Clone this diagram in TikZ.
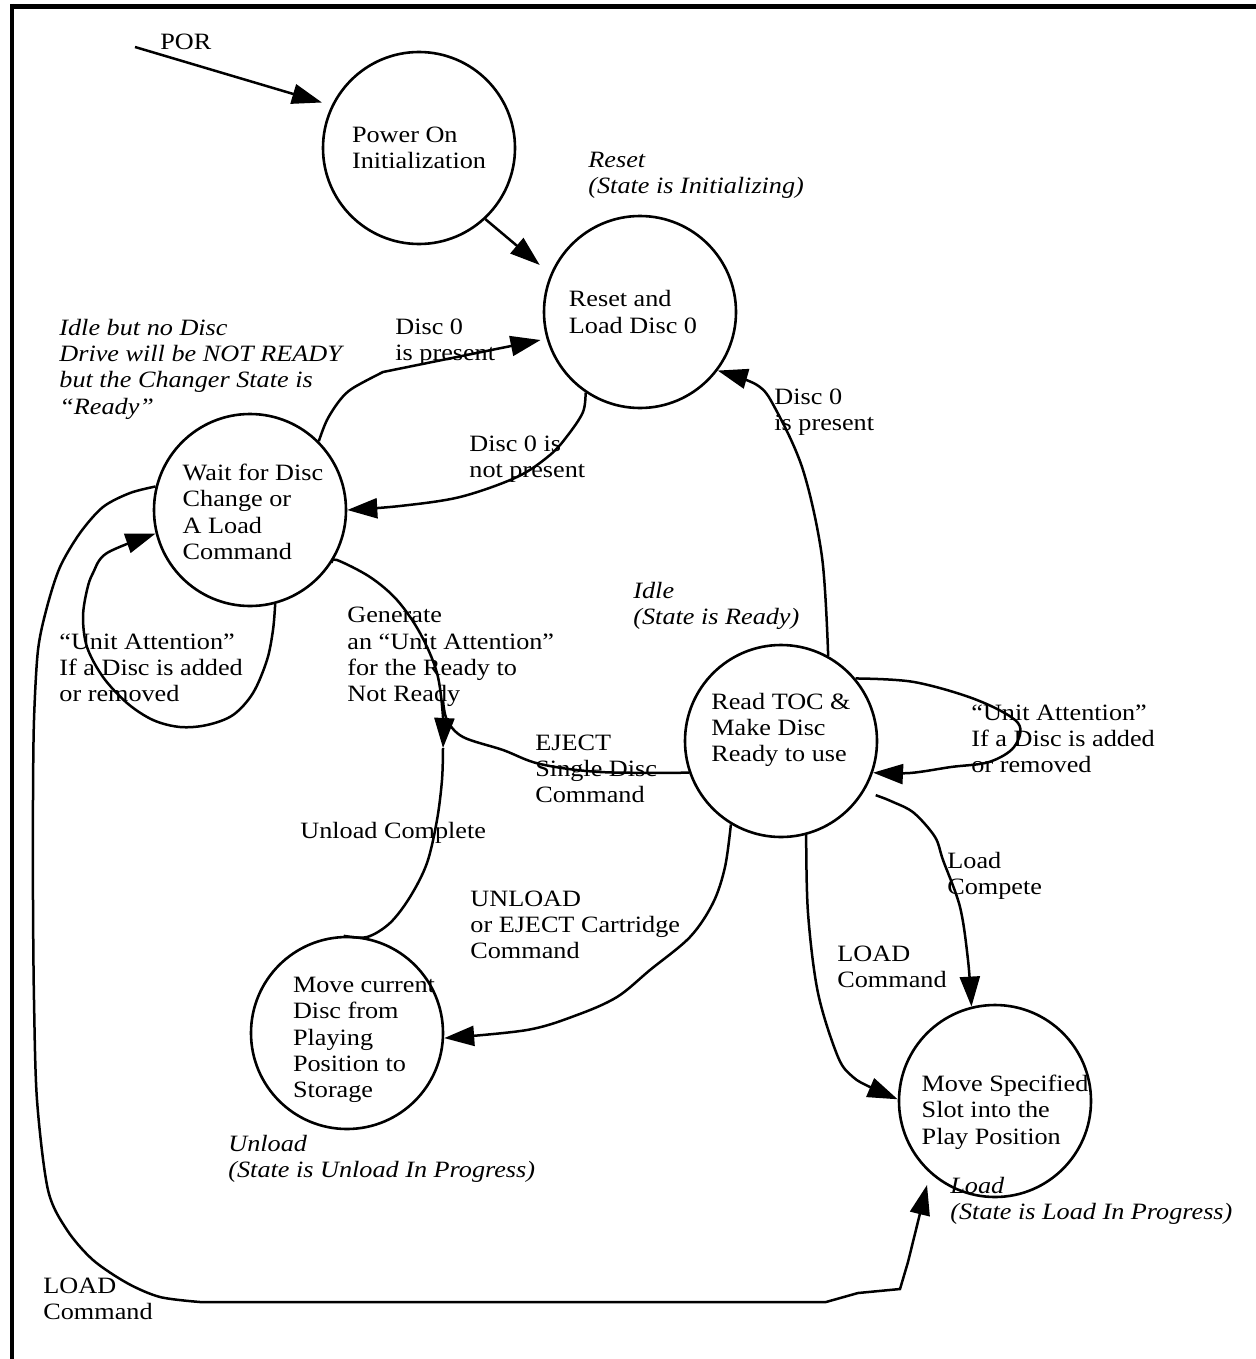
\documentclass[tikz,border=0pt]{standalone}
\usepackage{fontspec}
\setmainfont{Liberation Serif}[FakeStretch=1.12]
\usetikzlibrary{arrows.meta}
\newcommand\labelfont{\fontsize{11.7pt}{13.15pt}\selectfont}
\tikzset{
  statenode/.style={circle, draw, line width=1.3pt, minimum size=96pt, inner sep=0pt},
  stxt/.style={align=left, font=\labelfont, inner sep=0pt},
  wire/.style={line width=1.25pt},
  conn/.style={wire, -{Triangle[length=15pt,width=10pt]}},
  lbl/.style={anchor=west, align=left, inner sep=0pt, font=\labelfont},
  ital/.style={lbl, font=\labelfont\itshape},
}
\begin{document}
\begin{tikzpicture}[x=0.5pt, y=-0.5pt]
\useasboundingbox (0,0) rectangle (1256,1359);

% page frame (top and left edges)
\draw[line width=2.5pt] (10,6.5) -- (1256,6.5);
\draw[line width=2pt] (12,4) -- (12,1359);

% states
\node[statenode, label={[stxt]center:{Power On\\Initialization}}] (power) at (419,148) {};
\node[statenode, label={[stxt, xshift=-3.5pt]center:{Reset and\\Load Disc 0}}] (reset) at (640,312) {};
\node[statenode, label={[stxt, xshift=1.5pt, yshift=-1pt]center:{Wait for Disc\\Change or\\A Load\\Command}}] (wait) at (250,510) {};
\node[statenode, label={[stxt, yshift=5.5pt]center:{Read TOC \&\\Make Disc\\Ready to use}}] (toc) at (781,741) {};
\node[statenode, label={[stxt, xshift=8.5pt, yshift=-3.5pt]center:{Move current\\Disc from\\Playing\\Position to\\Storage}}] (unload) at (347,1033) {};
\node[statenode, label={[stxt, xshift=5pt, yshift=-5.5pt]center:{Move Specified\\Slot into the\\Play Position}}] (load) at (995,1101) {};

% free ends
\coordinate (porstart) at (135,47);
\coordinate (gentip) at (443,748);

% power-on reset
\node[lbl] (por) at (160,42) {POR};
\draw[conn, shorten >=5pt] (porstart) -- (power.154);
\draw[conn, shorten >=7pt] (power.-47) -- (reset.157);

% Reset <-> Wait
\draw[conn, shorten >=3pt] plot[smooth, tension=0.55] coordinates {(wait.45) (327,420) (340,400) (353,388) (383,372)} -- (reset.196);
\draw[conn] plot[smooth, tension=0.55] coordinates {(reset.236) (583,412) (568,435) (550,455) (517,477) (460,497) (400,506) (wait.0)};

% Read TOC -> Reset
\draw[conn] plot[smooth, tension=0.55] coordinates {(toc.61) (822,557) (803,470) (775,408) (757,385) (reset.-37)};

% Wait self loop
\draw[conn] plot[smooth, tension=0.55] coordinates {(wait.-75) (273,630) (267,660) (253,693) (233,715) (207,725) (180,727) (153,720) (127,703) (103,677) (87,647) (83,617) (87,590) (93,573) (107,553) (wait.194)};

% Wait -> eject junction, EJECT single disc, unload complete
\draw[conn] plot[smooth, tension=0.55] coordinates {(wait.-33) (337,560) (370,577) (397,600) (420,633) (437,673) (443,717) (gentip)};
\draw[wire] plot[smooth, tension=0.55] coordinates {(toc.199) (600,772) (540,764) (503,750) (463,737) (447,720) (443,700)};
\draw[wire] plot[smooth, tension=0.55] coordinates {(gentip) (442,780) (437,820) (427,863) (410,897) (390,923) (367,937) (unload.92)};

% Read TOC self loop
\draw[conn] plot[smooth, tension=0.55] coordinates {(toc.40) (914,682) (977,700) (1018,723) (1014,747) (989,762) (951,767) (910,773) (toc.-19)};

% Read TOC -> Move current
\draw[conn] plot[smooth, tension=0.55] coordinates {(toc.239) (725,867) (713,903) (690,937) (650,970) (617,997) (577,1015) (527,1030) (unload.-3)};

% Read TOC -> Move specified
\draw[conn, shorten <=6pt] plot[smooth, tension=0.55] coordinates {(toc.-31) (893,802) (914,813) (935,837) (943,860) (960,907) (968,960) (load.104)};
\draw[conn] plot[smooth, tension=0.55] coordinates {(toc.-75) (808,913) (818,993) (838,1057) (853,1077) (870,1087) (load.179)};

% Wait -> Move specified (LOAD)
\draw[conn, shorten >=6pt] plot[smooth, tension=0.5] coordinates {(wait.166) (130,493) (103,507) (80,533) (60,567) (47,607) (38,650) (34,720) (33,800) (33,900) (34,1000) (37,1100) (48,1190) (67,1230) (93,1260) (127,1283) (160,1297) (200,1302)} -- (826,1302) -- (858,1293) -- (900,1289) -- (908,1262) -- (load.228);

% state descriptions
\node[ital] (dreset) at (588,175) {Reset\\(State is Initializing)};
\node[ital] (dwait) at (59,369) {Idle but no Disc\\Drive will be NOT READY\\but the Changer State is\\“Ready”};
\node[ital] (didle) at (633,606) {Idle\\(State is Ready)};
\node[ital] (dunload) at (228,1159) {Unload\\(State is Unload In Progress)};
\node[ital] (dload) at (950,1201) {Load\\(State is Load In Progress)};

% transition labels
\node[lbl] (l1) at (395,342) {Disc 0\\is present};
\node[lbl] (l2) at (469,459) {Disc 0 is\\not present};
\node[lbl] (l3) at (774,412) {Disc 0\\is present};
\node[lbl] (l4) at (59,668) {“Unit Attention”\\If a Disc is added\\or removed};
\node[lbl] (l5) at (347,657) {Generate\\an “Unit Attention”\\for the Ready to\\Not Ready};
\node[lbl] (l6) at (971,739) {“Unit Attention”\\If a Disc is added\\or removed};
\node[lbl] (l7) at (535,769) {EJECT\\Single Disc\\Command};
\node[lbl] (l8) at (300,833) {Unload Complete};
\node[lbl] (l9) at (947,876) {Load\\Compete};
\node[lbl] (l10) at (470,925) {UNLOAD\\or EJECT Cartridge\\Command};
\node[lbl] (l11) at (837,967) {LOAD\\Command};
\node[lbl] (l12) at (43,1299) {LOAD\\Command};
\end{tikzpicture}
\end{document}
